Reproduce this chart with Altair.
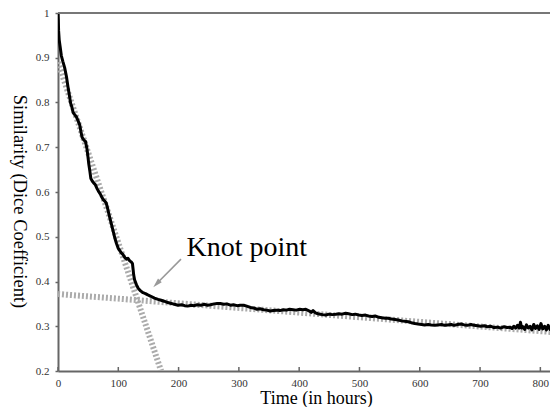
import altair as alt
import pandas as pd

# ---- data ----
hours = [0, 0.5, 1, 2, 3.5, 5.5, 8, 11, 14, 16.5, 19, 21, 23, 25, 28, 30.5, 33, 36, 38, 40,
         43, 45.5, 48, 50, 51, 53, 54.5, 57, 60, 62, 65, 67, 70, 72.5, 75, 78, 80, 82, 84, 86,
         89, 92, 94.5, 97, 100, 103, 105, 108, 111, 114, 116, 119, 122, 123.5, 124.5, 125.5, 127, 130, 133, 137,
         141, 145, 149, 154, 160, 166, 171, 176, 182, 188, 193, 199, 205, 210, 215, 221, 226, 231, 237, 242,
         248, 253, 259, 264, 269, 275, 280, 286, 291, 297, 302, 308, 313, 319, 324, 330, 335, 341, 346, 352,
         357, 363, 368, 374, 379, 384, 390, 395, 401, 406, 411, 417, 420, 423, 427, 431, 435, 439, 444, 450,
         455, 461, 466, 471, 477, 482, 488, 493, 499, 504, 510, 515, 521, 526, 532, 537, 543, 548, 553, 559,
         564, 570, 575, 581, 586, 592, 597, 603, 608, 614, 619, 625, 630, 636, 641, 646, 652, 657, 663, 668,
         674, 679, 685, 690, 696, 701, 707, 712, 718, 723, 729, 734, 740, 745, 750, 753, 756, 759, 762, 765,
         767, 769, 771, 774, 777, 780, 783, 786, 789, 792, 795, 798, 801, 804, 807, 810, 813, 816, 819]
similarity = [1.000, 0.985, 0.960, 0.940, 0.925, 0.905, 0.892, 0.878, 0.858, 0.835, 0.815, 0.798, 0.790, 0.778, 0.772, 0.768, 0.760, 0.750, 0.735, 0.722,
              0.716, 0.713, 0.697, 0.675, 0.663, 0.645, 0.630, 0.624, 0.619, 0.616, 0.607, 0.602, 0.596, 0.589, 0.583, 0.579, 0.575, 0.565, 0.553, 0.542,
              0.526, 0.510, 0.496, 0.485, 0.474, 0.468, 0.464, 0.460, 0.453, 0.450, 0.452, 0.446, 0.443, 0.440, 0.428, 0.415, 0.404, 0.393, 0.385, 0.379,
              0.375, 0.373, 0.370, 0.367, 0.363, 0.360, 0.358, 0.356, 0.353, 0.351, 0.349, 0.347, 0.348, 0.346, 0.345, 0.347, 0.346, 0.348, 0.347, 0.349,
              0.347, 0.348, 0.350, 0.351, 0.351, 0.349, 0.350, 0.347, 0.348, 0.346, 0.347, 0.347, 0.345, 0.342, 0.341, 0.338, 0.339, 0.337, 0.336, 0.334,
              0.335, 0.336, 0.335, 0.337, 0.336, 0.338, 0.337, 0.336, 0.338, 0.337, 0.338, 0.334, 0.331, 0.335, 0.330, 0.328, 0.327, 0.326, 0.325, 0.327,
              0.326, 0.327, 0.328, 0.327, 0.329, 0.328, 0.326, 0.327, 0.325, 0.324, 0.325, 0.323, 0.322, 0.323, 0.320, 0.319, 0.318, 0.318, 0.316, 0.315,
              0.314, 0.312, 0.311, 0.310, 0.308, 0.306, 0.305, 0.304, 0.303, 0.304, 0.303, 0.302, 0.303, 0.304, 0.302, 0.303, 0.304, 0.302, 0.304, 0.305,
              0.303, 0.302, 0.304, 0.302, 0.301, 0.300, 0.301, 0.299, 0.300, 0.297, 0.298, 0.296, 0.299, 0.297, 0.298, 0.295, 0.300, 0.296, 0.302, 0.296,
              0.309, 0.296, 0.299, 0.293, 0.303, 0.296, 0.300, 0.292, 0.304, 0.295, 0.301, 0.293, 0.306, 0.294, 0.300, 0.292, 0.302, 0.293, 0.298]

# two fitted straight segments (endpoints), meeting at the knot
fit_segment = ["steep", "steep", "flat", "flat"]
fit_hours = [0, 171, 0, 820]
fit_sim = [0.89, 0.20, 0.372, 0.287]

# annotation
label_text = ["Knot point"]
label_hours = [213]
label_sim = [0.457]
arrow_hours = [204, 163.5]
arrow_sim = [0.450, 0.395]
head_hours = [163.5]
head_sim = [0.395]

x_ticks = [0, 100, 200, 300, 400, 500, 600, 700, 800]
y_ticks = [0.2, 0.3, 0.4, 0.5, 0.6, 0.7, 0.8, 0.9, 1.0]

W, H = 492, 358
X_MAX = 816
FONT = "Liberation Serif"

df = pd.DataFrame({"hours": hours, "sim": similarity})
df_fit = pd.DataFrame({"seg": fit_segment, "hours": fit_hours, "sim": fit_sim})
df_label = pd.DataFrame({"txt": label_text, "hours": label_hours, "sim": label_sim})
df_arrow = pd.DataFrame({"hours": arrow_hours, "sim": arrow_sim})
df_head = pd.DataFrame({"hours": head_hours, "sim": head_sim})
df_xt = pd.DataFrame({"hours": x_ticks})


def xs():
    return alt.Scale(domain=[0, X_MAX], nice=False, zero=False)


def ys():
    return alt.Scale(domain=[0.2, 1.0], nice=False, zero=False)


X_AXIS = alt.Axis(values=x_ticks, title="Time (in hours)", ticks=False, labelPadding=6,
                  labelFontSize=11, labelColor="#333", domainColor="#666", domainWidth=2,
                  titleFontSize=18, titleFontWeight="normal", titleColor="black",
                  titleX=258, titleY=32, titleBaseline="alphabetic", titleAnchor="middle",
                  labelFlush=False, grid=False)
Y_AXIS = alt.Axis(values=y_ticks, title="Similarity (Dice Coefficient)",
                  labelExpr="datum.value == 1 ? '1' : format(datum.value, '.1f')",
                  tickSize=3, tickColor="#666", tickWidth=1.5, labelPadding=6,
                  labelFontSize=11, labelColor="#333", domainColor="#666", domainWidth=2,
                  titleFontSize=18.5, titleFontWeight="normal", titleColor="black",
                  titleAngle=90, titleX=-39, titleY=188, titleAlign="center",
                  titleBaseline="middle", labelFlush=False, grid=False)

fit = alt.Chart(df_fit).mark_line(color="#ababab", strokeWidth=6, strokeDash=[2, 2], clip=True).encode(
    x=alt.X("hours:Q", scale=xs(), axis=X_AXIS),
    y=alt.Y("sim:Q", scale=ys(), axis=Y_AXIS),
    detail="seg:N",
)

main = alt.Chart(df).mark_line(color="black", strokeWidth=3, clip=True, strokeJoin="round").encode(
    x=alt.X("hours:Q", scale=xs()),
    y=alt.Y("sim:Q", scale=ys()),
)

label = alt.Chart(df_label).mark_text(font=FONT, fontSize=28, align="left", baseline="alphabetic",
                                      color="black").encode(
    x=alt.X("hours:Q", scale=xs()),
    y=alt.Y("sim:Q", scale=ys()),
    text="txt:N",
)

arrow = alt.Chart(df_arrow).mark_line(color="#999999", strokeWidth=1.6).encode(
    x=alt.X("hours:Q", scale=xs()),
    y=alt.Y("sim:Q", scale=ys()),
)

head = alt.Chart(df_head).mark_point(shape="M0,-1L0.55,1L-0.55,1Z", angle=224, size=90,
                                     filled=True, color="#999999", opacity=1).encode(
    x=alt.X("hours:Q", scale=xs()),
    y=alt.Y("sim:Q", scale=ys()),
)

xticks = alt.Chart(df_xt).mark_rule(color="#666", strokeWidth=1.5).encode(
    x=alt.X("hours:Q", scale=xs()),
    y=alt.value(H - 4),
    y2=alt.value(H),
)

top = alt.Chart(df_xt).mark_rule(color="#777", strokeWidth=2).encode(
    x=alt.value(0), x2=alt.value(W), y=alt.value(0)
)

chart = alt.layer(fit, main, label, arrow, head, xticks, top).properties(
    width=W, height=H,
    autosize=alt.AutoSizeParams(type="none"),
    padding={"left": 50, "top": 5, "right": 0, "bottom": 36},
    background="white",
).configure_view(stroke=None).configure_axis(
    labelFont=FONT, titleFont=FONT
)

chart.save("out.html", embed_options={"renderer": "svg", "actions": False})
